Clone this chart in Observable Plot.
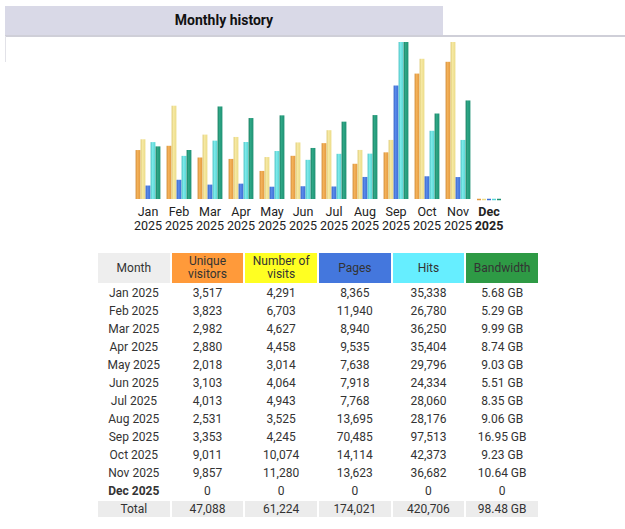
<!DOCTYPE html>
<html>
<head>
<meta charset="utf-8">
<script src="https://cdn.jsdelivr.net/npm/d3@7"></script>
<script src="https://cdn.jsdelivr.net/npm/@observablehq/plot@0.6"></script>
<style>
  html, body { margin: 0; padding: 0; background: #fff; }
  body { width: 625px; height: 529px; position: relative; overflow: hidden; font-family: Roboto, "Noto Sans", sans-serif; color: #222; }
  #titlebox { position: absolute; left: 5px; top: 6px; width: 438px; height: 29px; background: #d9d9e7; text-align: center; font-weight: bold; font-size: 14px; line-height: 29px; color: #111; }
  #hline { position: absolute; left: 5px; top: 35px; width: 620px; height: 2px; background: #cfcfd8; }
  #vline { position: absolute; left: 5px; top: 36px; width: 1px; height: 26px; background: #e2e2e8; }
  #chart { position: absolute; left: 0; top: 37px; }
  #tbl { position: absolute; left: 96px; top: 251px; border-spacing: 2px; table-layout: fixed; width: 444px; font-size: 12px; color: #333; }
  #tbl td, #tbl th { padding: 0; text-align: center; font-weight: normal; }
  #tbl th { height: 30px; line-height: 13px; color: #333; }
  #tbl td { height: 16px; line-height: 16px; }
  #tbl tr.total td { background: #ececec; }
</style>
</head>
<body>
<div id="titlebox">Monthly history</div>
<div id="hline"></div>
<div id="vline"></div>
<div id="chart"></div>
<table id="tbl"></table>
<script>
// ---- data ----
const months = ["Jan 2025","Feb 2025","Mar 2025","Apr 2025","May 2025","Jun 2025","Jul 2025","Aug 2025","Sep 2025","Oct 2025","Nov 2025","Dec 2025"];
const uniqueVisitors = [3517,3823,2982,2880,2018,3103,4013,2531,3353,9011,9857,0];
const visits = [4291,6703,4627,4458,3014,4064,4943,3525,4245,10074,11280,0];
const pages = [8365,11940,8940,9535,7638,7918,7768,13695,70485,14114,13623,0];
const hits = [35338,26780,36250,35404,29796,24334,28060,28176,97513,42373,36682,0];
const bandwidthGB = [5.68,5.29,9.99,8.74,9.03,5.51,8.35,9.06,16.95,9.23,10.64,0];
const totals = ["47,088","61,224","174,021","420,706","98.48 GB"];
const headers = ["Month","Unique<br>visitors","Number of<br>visits","Pages","Hits","Bandwidth"];
const headerColors = ["#eeeeee","#ff9a3a","#ffff22","#4477dd","#66eeff","#2e9a45"];

// ---- bar chart ----
const seriesKeys = ["u","v","p","h","k"];
const seriesValues = {u: uniqueVisitors, v: visits, p: pages, h: hits, k: bandwidthGB};
// AWStats scaling: visitors & visits share max of visits, pages & hits share max of hits
const maxVisits = d3.max(visits), maxHits = d3.max(hits), maxBw = d3.max(bandwidthGB);
const seriesMax = {u: maxVisits, v: maxVisits, p: maxHits, h: maxHits, k: maxBw};
const grads = {
  u: ["#d08a35","#f4b25a","#e39a40"],
  v: ["#dcc870","#f6e9a4","#ecdc88"],
  p: ["#3360c4","#5a8aea","#3d6fd6"],
  h: ["#45bec0","#7eeaea","#58d6d6"],
  k: ["#187a5e","#2fa887","#1f9173"]
};
const rows = [];
months.forEach((m, i) => {
  for (const s of seriesKeys) {
    const v = seriesValues[s][i];
    rows.push({month: m, series: s, value: v, norm: v / seriesMax[s]});
  }
});

const axisOpts = {anchor: "bottom", tickSize: 0, tickPadding: 7, tickFormat: d => d.replace(" ", "\n"), lineHeight: 1.12, fontSize: 12.5, label: null};
const marks = [];
for (const s of seriesKeys) {
  marks.push(Plot.barY(rows.filter(d => d.series === s && d.value > 0), {fx: "month", x: "series", y: "norm", fill: `url(#grad-${s})`, insetLeft: 0.1, insetRight: 0.1}));
  marks.push(Plot.tickY(rows.filter(d => d.series === s && d.value === 0), {fx: "month", x: "series", y: "norm", stroke: grads[s][2], strokeWidth: 1.5, insetLeft: 0.5, insetRight: 0.5}));
}
marks.push(Plot.axisFx({...axisOpts, ticks: months.slice(0, 11)}));
marks.push(Plot.axisFx({...axisOpts, ticks: months.slice(11), fontWeight: "bold"}));

const svg = Plot.plot({
  width: 625,
  height: 200,
  marginTop: 5,
  marginBottom: 38,
  marginLeft: 130.5,
  marginRight: 119.5,
  fx: {domain: months, padding: 0.13, label: null},
  x: {domain: seriesKeys, axis: null, padding: 0},
  y: {domain: [0, 1], axis: null},
  style: {fontFamily: "Roboto, sans-serif", fontSize: "12.5px", color: "#222", background: "transparent", overflow: "visible"},
  marks
});
const defs = d3.select(svg).insert("defs", ":first-child");
for (const s of seriesKeys) {
  const g = defs.append("linearGradient").attr("id", `grad-${s}`).attr("x1", 0).attr("x2", 1).attr("y1", 0).attr("y2", 0);
  g.append("stop").attr("offset", "0%").attr("stop-color", grads[s][0]);
  g.append("stop").attr("offset", "35%").attr("stop-color", grads[s][1]);
  g.append("stop").attr("offset", "100%").attr("stop-color", grads[s][2]);
}
document.getElementById("chart").appendChild(svg);

// ---- table ----
const fmt = d3.format(",");
const tbl = d3.select("#tbl");
const hr = tbl.append("tr");
headers.forEach((h, i) => hr.append("th").style("background", headerColors[i]).html(h));
months.forEach((m, i) => {
  const tr = tbl.append("tr");
  const cells = [m, fmt(uniqueVisitors[i]), fmt(visits[i]), fmt(pages[i]), fmt(hits[i]), bandwidthGB[i] === 0 ? "0" : bandwidthGB[i].toFixed(2) + " GB"];
  cells.forEach((c, j) => {
    const td = tr.append("td").text(c);
    if (j === 0 && i === months.length - 1) td.style("font-weight", "bold");
  });
});
const tt = tbl.append("tr").attr("class", "total");
["Total", ...totals].forEach(c => tt.append("td").text(c));
</script>
</body>
</html>
